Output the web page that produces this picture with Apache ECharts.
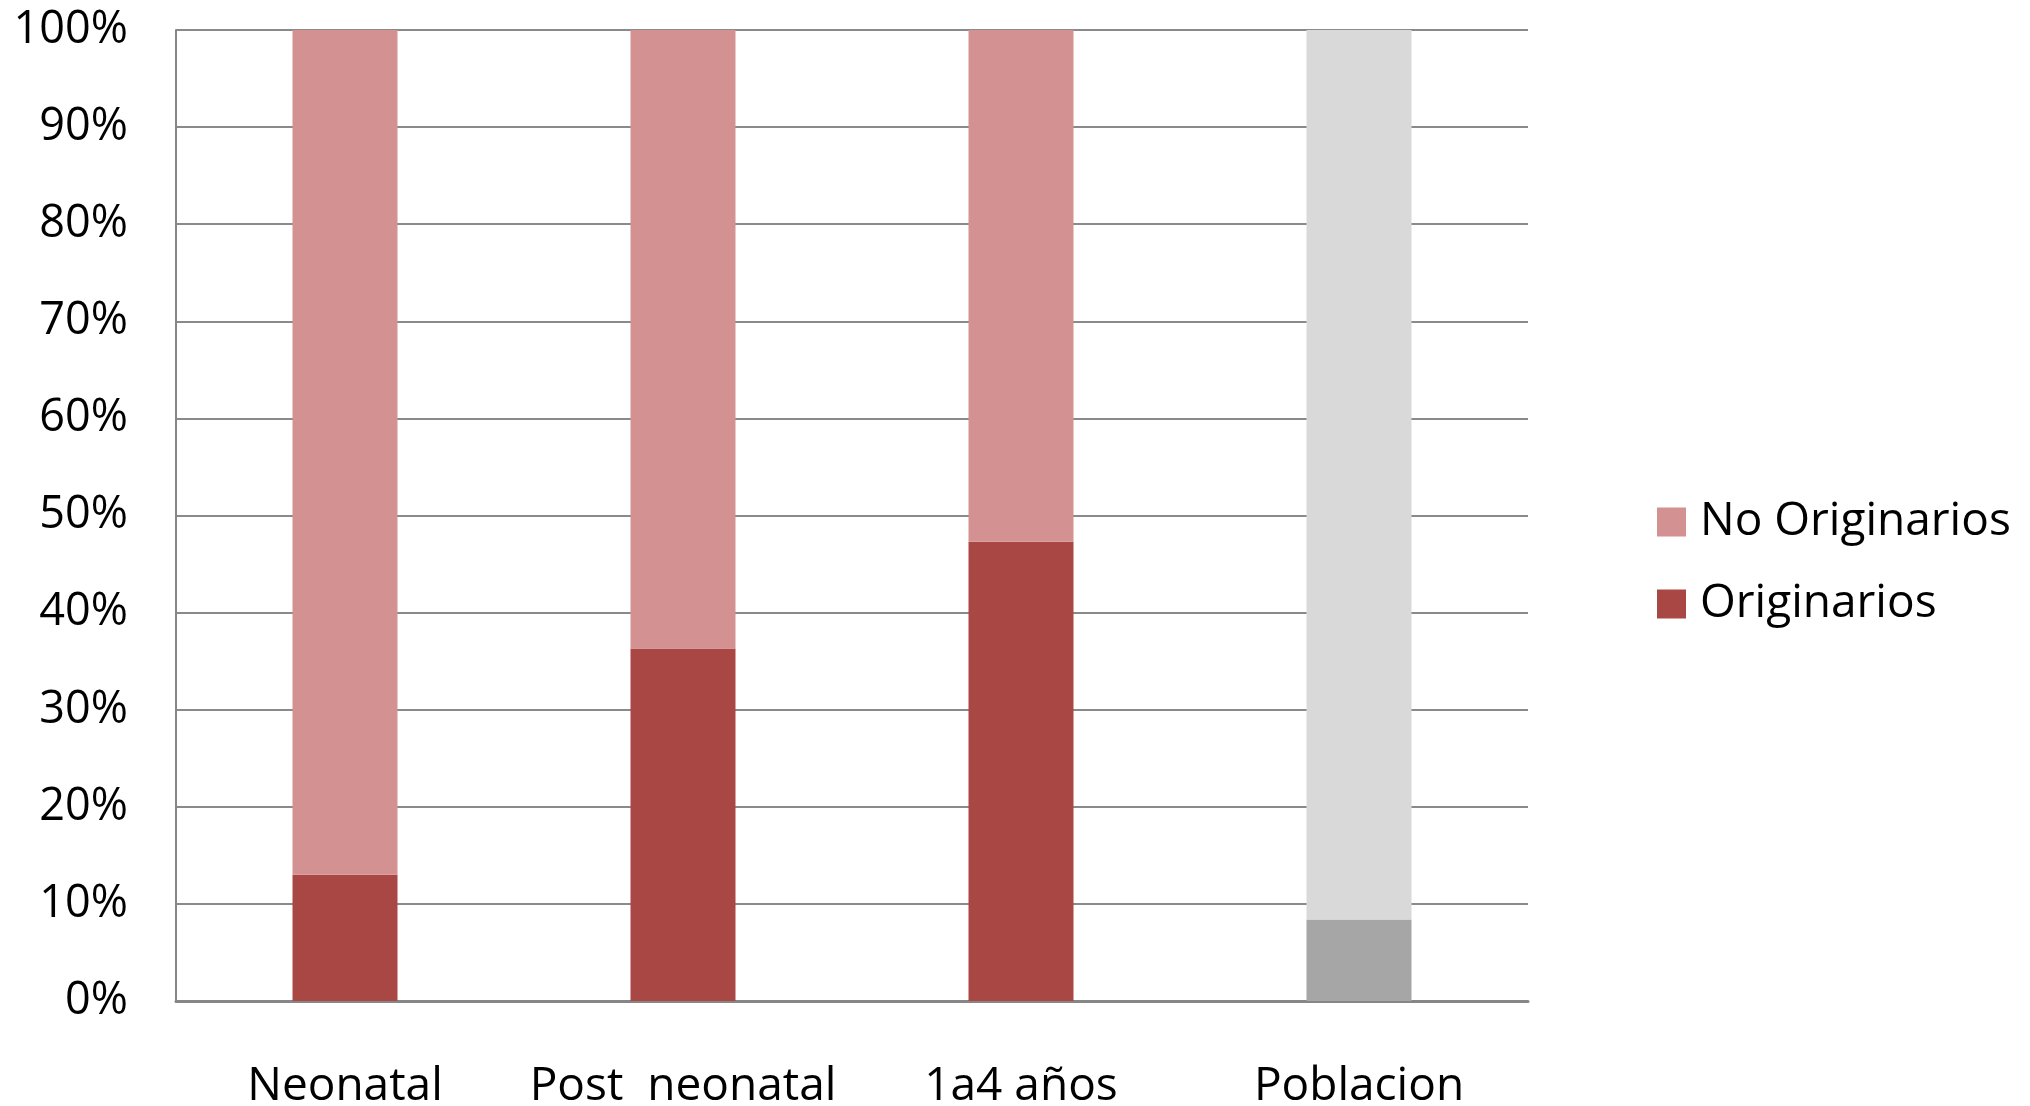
<!DOCTYPE html>
<html>
<head>
<meta charset="utf-8">
<script src="https://cdn.jsdelivr.net/npm/echarts@6/dist/echarts.min.js"></script>
<style>
html,body{margin:0;padding:0;background:#fff;}
#chart{width:2030px;height:1106px;}
</style>
</head>
<body>
<div id="chart"></div>
<script>
const categories = ['Neonatal', 'Post  neonatal', '1a4 años', 'Poblacion'];
const originarios = [13.0, 36.3, 47.3, 8.4];
const noOriginarios = [87.0, 63.7, 52.7, 91.6];
const yTicks = [0, 10, 20, 30, 40, 50, 60, 70, 80, 90, 100];

const colNo = '#D39291';
const colOr = '#A94745';
const grayLight = '#D9D9D9';
const grayDark = '#A6A6A6';

const FONT = 'Open Sans';

const orData = originarios.map((v, i) => i === 3 ? { value: v, itemStyle: { color: grayDark } } : v);
const noData = noOriginarios.map((v, i) => i === 3 ? { value: v, itemStyle: { color: grayLight } } : v);

const chart = echarts.init(document.getElementById('chart'));
chart.setOption({
  animation: false,
  backgroundColor: '#ffffff',
  grid: { left: 176, top: 30, right: 502, bottom: 105, containLabel: false, outerBoundsMode: 'none' },
  legend: {
    orient: 'vertical',
    left: 1652,
    top: 494,
    itemWidth: 29,
    itemHeight: 29,
    itemGap: 36,
    icon: 'rect',
    data: ['No Originarios', 'Originarios'],
    textStyle: { fontFamily: FONT, fontSize: 46, color: '#000', lineHeight: 46, padding: [0, 0, 0, 9] }
  },
  xAxis: {
    type: 'category',
    data: categories,
    boundaryGap: true,
    axisLine: { show: true, lineStyle: { color: '#868686', width: 3 } },
    axisTick: { show: false },
    axisLabel: { fontFamily: FONT, fontSize: 46, color: '#000', margin: 63, interval: 0 }
  },
  yAxis: {
    type: 'value',
    min: yTicks[0],
    max: yTicks[yTicks.length - 1],
    interval: 10,
    axisLine: { show: true, lineStyle: { color: '#868686', width: 2 } },
    axisTick: { show: false },
    splitLine: { show: true, lineStyle: { color: '#8a8a8a', width: 2 } },
    axisLabel: { fontFamily: FONT, fontSize: 45, color: '#000', margin: 48, formatter: v => v + '%' }
  },
  series: [
    {
      name: 'Originarios',
      type: 'bar',
      stack: 'total',
      barWidth: 105,
      itemStyle: { color: colOr },
      data: orData
    },
    {
      name: 'No Originarios',
      type: 'bar',
      stack: 'total',
      barWidth: 105,
      itemStyle: { color: colNo },
      data: noData
    }
  ]
});
</script>
</body>
</html>
